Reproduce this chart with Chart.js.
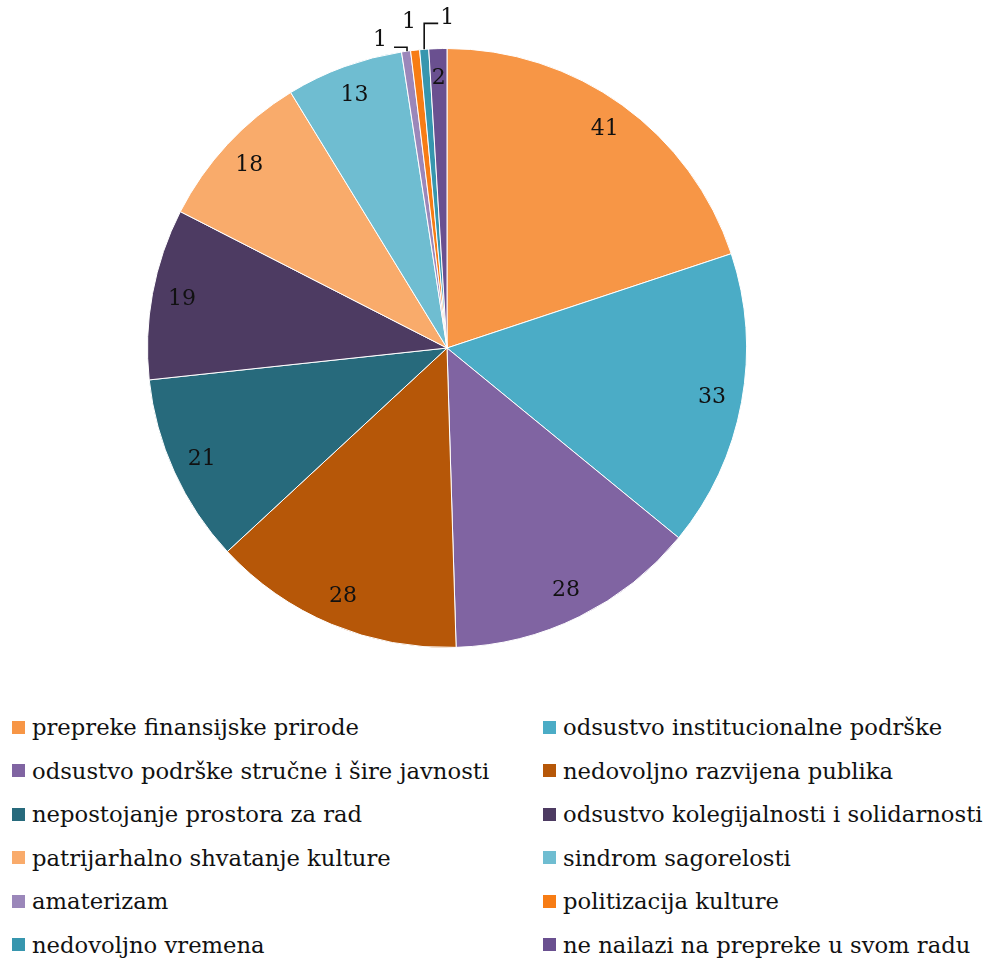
<!DOCTYPE html>
<html>
<head>
<meta charset="utf-8">
<script src="https://cdn.jsdelivr.net/npm/chart.js@4.4.1/dist/chart.umd.min.js"></script>
<style>
  body { margin: 0; background: #fff; }
  #wrap { position: relative; width: 987px; height: 961px; }
  #chartBox { position: absolute; left: 0; top: 0; width: 987px; height: 700px; }
  #legend {
    position: absolute; left: 12px; top: 713px;
    display: grid; grid-template-columns: 531px 444px;
    grid-auto-rows: 43.6px;
    font-family: "DejaVu Serif", serif; font-size: 22.7px; color: #111;
  }
  #legend .item { display: flex; align-items: center; height: 28px; white-space: nowrap; }
  #legend .box { width: 13px; height: 13px; margin-right: 7px; flex: none; }
</style>
</head>
<body>
<div id="wrap">
  <div id="chartBox"><canvas id="obstaclesChart"></canvas></div>
  <div id="legend"></div>
</div>
<script>
var categories = [
  'prepreke finansijske prirode',
  'odsustvo institucionalne podrške',
  'odsustvo podrške stručne i šire javnosti',
  'nedovoljno razvijena publika',
  'nepostojanje prostora za rad',
  'odsustvo kolegijalnosti i solidarnosti',
  'patrijarhalno shvatanje kulture',
  'sindrom sagorelosti',
  'amaterizam',
  'politizacija kulture',
  'nedovoljno vremena',
  'ne nailazi na prepreke u svom radu'
];
var counts = [41, 33, 28, 28, 21, 19, 18, 13, 1, 1, 1, 2];
var sliceColors = [
  '#f79646', '#4bacc6', '#8064a2', '#b65708', '#276a7c', '#4d3b62',
  '#f9ab6b', '#6fbdd1', '#9b87ba', '#f77c14', '#3796ae', '#6a5090'
];

// placement of the tiny slices' labels, relative to the outer edge of the slice
var smallLabels = {
  8:  { dx: -26, dy: -11, leader: 'left' },
  9:  { dx: -6,  dy: -28, leader: null },
  10: { dx: 23,  dy: -31, leader: 'right' }
};

var valueLabels = {
  id: 'valueLabels',
  afterDatasetsDraw: function(chart) {
    var ctx = chart.ctx;
    var meta = chart.getDatasetMeta(0);
    ctx.save();
    ctx.font = '22px "DejaVu Serif", serif';
    ctx.fillStyle = '#111';
    ctx.strokeStyle = '#111';
    ctx.lineWidth = 1.6;
    ctx.textAlign = 'center';
    ctx.textBaseline = 'middle';
    meta.data.forEach(function(arc, i) {
      var p = arc.getProps(['x', 'y', 'startAngle', 'endAngle', 'outerRadius'], true);
      var mid = (p.startAngle + p.endAngle) / 2;
      var v = chart.data.datasets[0].data[i];
      var s = smallLabels[i];
      if (!s) {
        var r = p.outerRadius * 0.9;
        ctx.fillText(v, p.x + Math.cos(mid) * r, p.y + Math.sin(mid) * r);
        return;
      }
      var ex = p.x + Math.cos(mid) * p.outerRadius;
      var ey = p.y + Math.sin(mid) * p.outerRadius;
      var lx = ex + s.dx, ly = ey + s.dy;
      ctx.fillText(v, lx, ly);
      if (s.leader === 'left') {
        ctx.beginPath();
        ctx.moveTo(ex + 1, ey);
        ctx.lineTo(ex + 1, ly + 7);
        ctx.lineTo(lx + 14, ly + 7);
        ctx.stroke();
      } else if (s.leader === 'right') {
        ctx.beginPath();
        ctx.moveTo(ex, ey);
        ctx.lineTo(ex, ly + 5);
        ctx.lineTo(lx - 9, ly + 5);
        ctx.stroke();
      }
    });
    ctx.restore();
  }
};

var chart = new Chart(document.getElementById('obstaclesChart'), {
  type: 'pie',
  data: {
    labels: categories,
    datasets: [{
      data: counts,
      backgroundColor: sliceColors,
      borderColor: '#ffffff',
      borderWidth: 1
    }]
  },
  options: {
    responsive: true,
    maintainAspectRatio: false,
    animation: false,
    layout: { padding: { top: 48, left: 0, right: 93, bottom: 52 } },
    plugins: {
      legend: { display: false },
      tooltip: { enabled: false }
    }
  },
  plugins: [valueLabels]
});

// two-column legend built from the chart's own labels
var legendEl = document.getElementById('legend');
chart.data.labels.forEach(function(label, i) {
  var item = document.createElement('div');
  item.className = 'item';
  var box = document.createElement('span');
  box.className = 'box';
  box.style.background = sliceColors[i];
  var txt = document.createElement('span');
  txt.textContent = label;
  item.appendChild(box);
  item.appendChild(txt);
  legendEl.appendChild(item);
});
</script>
</body>
</html>
